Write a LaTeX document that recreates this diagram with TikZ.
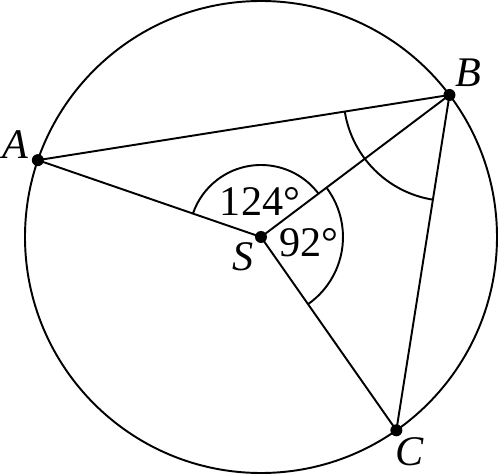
\documentclass[tikz,border=0pt]{standalone}
\usepackage{tikz}
\usepackage{amsmath}
\usepackage{fontspec}
\setmainfont{Liberation Serif}
\usetikzlibrary{calc}
\tikzset{dt/.append style={circle,fill,inner sep=0,minimum size=0.24cm}}
\tikzset{lb/.append style={font=\fontsize{24}{28}\selectfont,inner sep=0}}

\begin{document}
\begin{tikzpicture}[line width=1.1pt]
                \useasboundingbox (-5.22,-4.76) rectangle (4.74,4.74);
                % circle and points
                \draw (0,0) circle (4.72);
                \node[dt] (S) at (0,0) {};
                \node[dt] (A) at (161:4.72) {};
                \node[dt] (B) at (37:4.72) {};
                \node[dt] (C) at (-55:4.72) {};
                \node[lb] (la) at ($(A)+(-0.45,0.31)$) {\textit{A}};
                \node[lb] (lbb) at ($(B)+(0.38,0.44)$) {\textit{B}};
                \node[lb] (lc) at ($(C)+(0.26,-0.42)$) {\textit{C}};
                \node[lb] (ls) at ($(S)+(-0.36,-0.39)$) {\textit{S}};
                \draw (A.center) -- (B.center) -- (C.center);
                \draw (S.center) -- (A.center);
                \draw (S.center) -- (B.center);
                \draw (S.center) -- (C.center);
                % angles
                \draw (S.center) ++(37:1.44) arc[start angle=37, end angle=161, radius=1.44];
                \draw (S.center) ++(-55:1.64) arc[start angle=-55, end angle=37, radius=1.64];
                \draw (B.center) ++(189:2.12) arc[start angle=189, end angle=261, radius=2.12];
                \node[lb] (w1) at (-0.02,0.72) {124°};
                \node[lb] (w2) at (0.96,-0.12) {92°};
\end{tikzpicture}
\end{document}
